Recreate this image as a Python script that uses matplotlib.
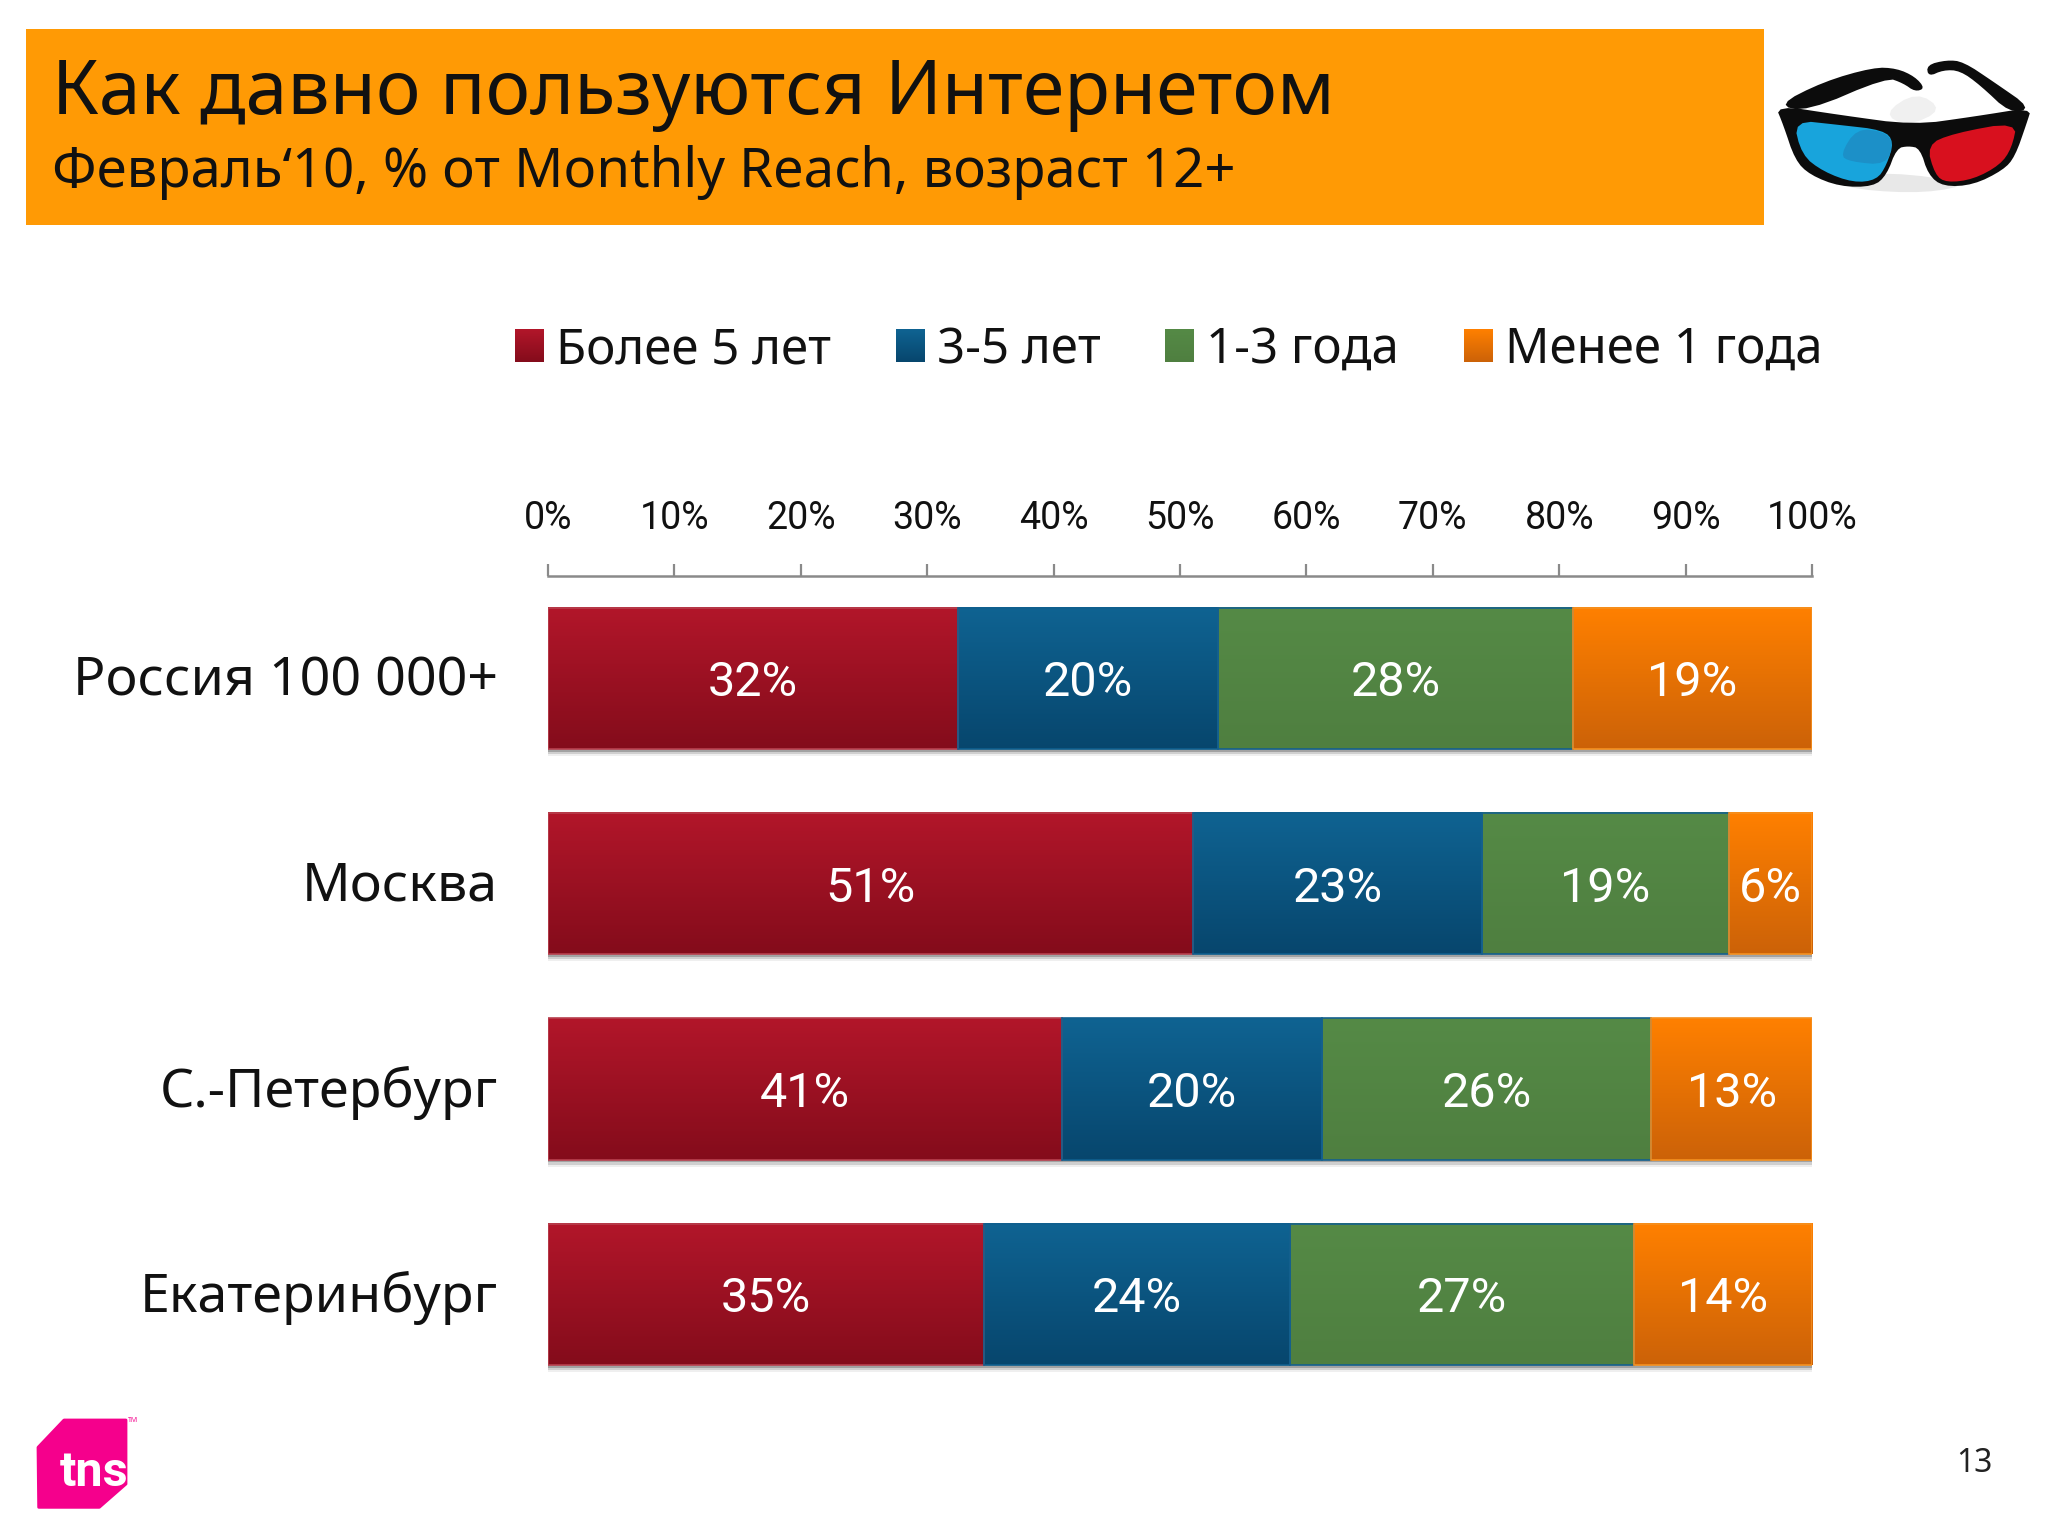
import numpy as np
import matplotlib
matplotlib.use("Agg")
import matplotlib.pyplot as plt
import matplotlib.patheffects as pe
from matplotlib.colors import LinearSegmentedColormap
from matplotlib.patches import Polygon, Rectangle
from matplotlib.transforms import ScaledTranslation

title = "Как давно пользуются Интернетом"
subtitle = "Февраль‘10, % от Monthly Reach, возраст 12+"
cities = ["Россия 100 000+", "Москва", "С.-Петербург", "Екатеринбург"]
series_names = ["Более 5 лет", "3-5 лет", "1-3 года", "Менее 1 года"]
over5 = [32.4, 51.0, 40.7, 34.5]
y3_5 = [20.6, 22.9, 20.5, 24.2]
y1_3 = [28.1, 19.5, 26.1, 27.2]
under1 = [18.9, 6.6, 12.7, 14.1]
over5_lbl = ["32%", "51%", "41%", "35%"]
y3_5_lbl = ["20%", "23%", "20%", "24%"]
y1_3_lbl = ["28%", "19%", "26%", "27%"]
under1_lbl = ["19%", "6%", "13%", "14%"]
xticks = [0, 10, 20, 30, 40, 50, 60, 70, 80, 90, 100]

tops = ["#B2162A", "#0F6392", "#558A46", "#FF8000"]
bottoms = ["#840C1B", "#07466D", "#4F7F40", "#CC6208"]
edges = ["#B8404E", "#0F5F8E", "#15608E", "#F59020"]

W, H = 2048, 1536
NARROW = ["Roboto", "Noto Sans", "DejaVu Sans"]
SANS = ["Noto Sans", "DejaVu Sans"]
fig = plt.figure(figsize=(W / 100, H / 100), dpi=100, facecolor="#FFFFFF")

# pixel overlay for slide decoration
bg = fig.add_axes([0, 0, 1, 1], zorder=0)
bg.set_xlim(0, W); bg.set_ylim(H, 0); bg.axis("off")

bg.add_patch(Rectangle((26, 29), 1738, 196, facecolor="#FF9A05", edgecolor="none"))
bg.text(52, 95, title, fontsize=54.1, family=SANS, color="#111111", va="center", ha="left")
bg.text(52, 173, subtitle, fontsize=39.2, family=SANS, color="#111111", va="center", ha="left")


def chaikin(pts, n=2):
    p = np.array(pts, float)
    for _ in range(n):
        q = np.roll(p, -1, axis=0)
        p = np.column_stack([0.75 * p + 0.25 * q, 0.25 * p + 0.75 * q]).reshape(-1, 2)
    return p


def gl(pts):
    p = chaikin(pts)
    return np.column_stack([1740 + p[:, 0] / 3, 20 + p[:, 1] / 3])


frame = "#0C0C0C"
bg.add_patch(Polygon(gl([(250, 475), (450, 455), (700, 490), (560, 520), (350, 510)]), facecolor="#E8E8E8", edgecolor="none"))
bg.add_patch(Polygon(gl([(430, 280), (530, 215), (610, 270), (500, 320)]), facecolor="#F0F0F0", edgecolor="none"))
bg.add_patch(Polygon(gl([(112, 255), (250, 185), (400, 142), (470, 145), (525, 170), (555, 205), (525, 215), (490, 190), (440, 172), (200, 275)]), facecolor=frame, edgecolor="none"))
bg.add_patch(Polygon(gl([(560, 135), (620, 120), (670, 125), (760, 185), (875, 265), (810, 280), (720, 195), (660, 152), (610, 150), (565, 170)]), facecolor=frame, edgecolor="none"))
bg.add_patch(Polygon(gl([(105, 255), (300, 285), (520, 315), (700, 290), (875, 262), (860, 310), (825, 410), (790, 450), (700, 495), (610, 500), (565, 465), (540, 385), (505, 378), (470, 385), (440, 465), (400, 500), (300, 500), (210, 465), (165, 420), (130, 315)]), facecolor=frame, edgecolor="none"))
bg.add_patch(Polygon(gl([(160, 300), (300, 315), (430, 330), (462, 365), (440, 435), (410, 480), (340, 488), (250, 455), (185, 405)]), facecolor="#18A4DC", edgecolor="none"))
bg.add_patch(Polygon(gl([(300, 405), (350, 325), (430, 335), (460, 365), (440, 435), (330, 425)]), facecolor="#1C90C8", edgecolor="none"))
bg.add_patch(Polygon(gl([(560, 375), (640, 340), (832, 305), (815, 385), (780, 435), (700, 478), (620, 488), (585, 465)]), facecolor="#D8101E", edgecolor="none"))

# logo
def lg(pts):
    return [(x / 3, 1390 + y / 3) for x, y in pts]


logo = Polygon(lg([(114, 172), (192, 90), (378, 90), (378, 282), (298, 352), (116, 352)]), facecolor="#F5008C", edgecolor="#F5008C", lw=2, joinstyle="round")
bg.add_patch(logo)
tns = bg.text(60, 1473, "tns", fontsize=35, family=["Roboto", "DejaVu Sans"], fontweight="bold", color="white", va="center", ha="left")
tns.set_clip_path(logo)
bg.text(128, 1421, "TM", fontsize=5, family=SANS, color="#F5008C", va="center", ha="left")
bg.text(1974, 1463, "13", fontsize=23, family=SANS, color="#222222", va="center", ha="center")

# chart axes: 0-100 % spans 548..1812 px; top spine on the axis line
ax = fig.add_axes([548 / W, 1 - 1397 / H, (1812 - 548) / W, (1397 - 575.7) / H], zorder=2)
ax.patch.set_alpha(0)
y = np.arange(len(cities))
h = 0.688
series = [over5, y3_5, y1_3, under1]
labels = [over5_lbl, y3_5_lbl, y1_3_lbl, under1_lbl]
left = np.zeros(len(cities))
handles = []
shadow = [pe.SimplePatchShadow(offset=(0, -5), shadow_rgbFace="#999999", alpha=0.15),
          pe.SimplePatchShadow(offset=(0, -3.5), shadow_rgbFace="#888888", alpha=0.3),
          pe.SimplePatchShadow(offset=(0, -2), shadow_rgbFace="#777777", alpha=0.5),
          pe.Normal()]
for vals, lbls, name, c0, c1, ec in zip(series, labels, series_names, tops, bottoms, edges):
    vals = np.array(vals)
    cmap = LinearSegmentedColormap.from_list(name, [c0, c1])
    bars = ax.barh(y, vals, left=left, height=h, color=c0, edgecolor="none", label=name, zorder=2)
    ax.barh(y, vals, left=left, height=h, facecolor="none", edgecolor=ec, linewidth=1.2, zorder=3.5)
    for b, txt in zip(bars, lbls):
        b.set_path_effects(shadow)
        x0, x1 = b.get_x(), b.get_x() + b.get_width()
        y0, y1 = b.get_y(), b.get_y() + b.get_height()
        ax.imshow(np.linspace(0, 1, 128).reshape(-1, 1), cmap=cmap, aspect="auto",
                  extent=(x0, x1, y1, y0), origin="upper", zorder=3)
        ax.text((x0 + x1) / 2, (y0 + y1) / 2 + 0.025, txt, color="white", fontsize=35, family=NARROW,
                ha="center", va="center", zorder=4)
    handles.append(bars)
    left = left + vals

ax.set_xlim(0, 100)
ax.set_ylim(3.5, -0.5)
ax.xaxis.tick_top()
ax.set_xticks(xticks)
ax.set_xticklabels([f"{t}%" for t in xticks], fontsize=27, family=NARROW, color="#111111")
ax.tick_params(axis="x", length=9, width=1.6, color="#8A8A8A", pad=19)
ax.set_yticks(y)
ax.set_yticklabels(cities, fontsize=38.7, family=SANS, color="#111111")
ax.tick_params(axis="y", length=0, pad=36)
for lab in ax.get_yticklabels():
    lab.set_transform(lab.get_transform() + ScaledTranslation(0, 2.0 / 72, fig.dpi_scale_trans))
for s in ["left", "right", "bottom"]:
    ax.spines[s].set_visible(False)
ax.spines["top"].set_color("#8A8A8A")
ax.spines["top"].set_linewidth(1.8)

leg = ax.legend(handles=handles, ncols=4, loc="center left",
                bbox_to_anchor=(515 / W, 1 - 350 / H), bbox_transform=fig.transFigure,
                frameon=False, borderpad=0, borderaxespad=0,
                prop={"family": SANS, "size": 35.4},
                handlelength=0.57, handleheight=0.58, handletextpad=0.26, columnspacing=1.32,
                labelcolor="#111111")
# swatches carry the same vertical gradient as the bars
fig.canvas.draw()
for p, name, c0, c1 in zip(leg.get_patches(), series_names, tops, bottoms):
    p.set_path_effects([])
    box = p.get_window_extent()
    p.set_visible(False)
    cmap = LinearSegmentedColormap.from_list(name + "_s", [c0, c1])
    bg.imshow(np.linspace(0, 1, 64).reshape(-1, 1), cmap=cmap, aspect="auto",
              extent=(box.x0, box.x1, H - box.y0 + 1, H - box.y1 - 1), origin="upper", zorder=5)
bg.set_xlim(0, W); bg.set_ylim(H, 0)

fig.savefig("out.png", dpi=100, facecolor=fig.get_facecolor())
